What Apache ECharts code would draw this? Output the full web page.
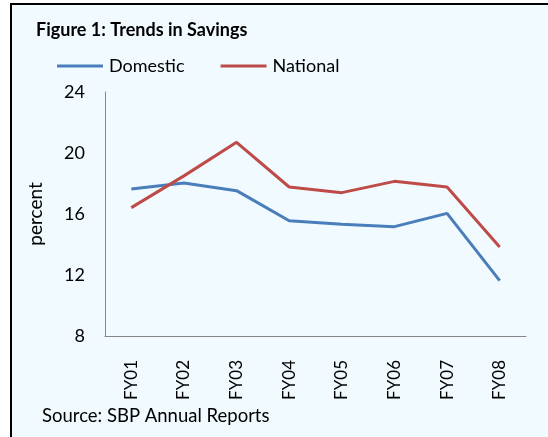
<!DOCTYPE html>
<html><head><meta charset="utf-8">
<script src="https://cdn.jsdelivr.net/npm/echarts@6/dist/echarts.min.js"></script>
<style>html,body{margin:0;padding:0;background:#fff}#c{width:548px;height:437px}</style>
</head><body><div id="c"></div>
<script>
const categories = ['FY01','FY02','FY03','FY04','FY05','FY06','FY07','FY08'];
const domestic = [17.64, 18.03, 17.53, 15.56, 15.32, 15.17, 16.04, 11.63];
const national = [16.42, 18.5, 20.7, 17.77, 17.4, 18.14, 17.77, 13.84];
const yTicks = [8, 12, 16, 20, 24];

const FONT = 'Lato, "Open Sans", sans-serif';
const chart = echarts.init(document.getElementById('c'), null, {renderer: 'canvas'});
chart.setOption({
  animation: false,
  backgroundColor: '#ffffff',
  graphic: [
    {type: 'rect', z: -10, shape: {x: 11, y: 4, width: 540, height: 440}, style: {fill: '#f0faff', stroke: '#000', lineWidth: 2}},
    {type: 'text', x: 36, y: 30.5, style: {text: 'Figure 1: Trends in Savings', font: 'bold 18px ' + FONT, fill: '#000', verticalAlign: 'middle'}},
    {type: 'text', x: 42, y: 416, style: {text: 'Source: SBP Annual Reports', font: '18.5px ' + FONT, fill: '#000', verticalAlign: 'middle'}}
  ],
  legend: {
    left: 57, top: 56, padding: 0, itemWidth: 46, itemHeight: 3, itemGap: 36,
    icon: 'rect',
    textStyle: {fontFamily: FONT, fontSize: 18, lineHeight: 20, color: '#000', padding: [0,0,0,1]},
    data: ['Domestic', 'National']
  },
  grid: {left: 105, right: 22, top: 92, bottom: 101, containLabel: false},
  xAxis: {
    type: 'category', data: categories, boundaryGap: true,
    axisLine: {lineStyle: {color: '#868686', width: 1}},
    axisTick: {show: false},
    axisLabel: {rotate: 90, margin: 24, fontFamily: FONT, fontSize: 17, color: '#000'}
  },
  yAxis: {
    type: 'value', min: yTicks[0], max: yTicks[yTicks.length-1], interval: 4,
    name: 'percent', nameLocation: 'middle', nameGap: 60, nameRotate: 90,
    nameTextStyle: {fontFamily: FONT, fontSize: 19, color: '#000'},
    axisLine: {show: true, lineStyle: {color: '#868686', width: 1}},
    axisTick: {show: false},
    splitLine: {show: false},
    axisLabel: {margin: 20, fontFamily: FONT, fontSize: 18, color: '#000'}
  },
  series: [
    {name: 'Domestic', type: 'line', data: domestic, symbol: 'none', lineStyle: {color: '#4a7ebb', width: 3}, itemStyle: {color: '#4a7ebb'}},
    {name: 'National', type: 'line', data: national, symbol: 'none', lineStyle: {color: '#be4b48', width: 3}, itemStyle: {color: '#be4b48'}}
  ]
});
</script></body></html>
